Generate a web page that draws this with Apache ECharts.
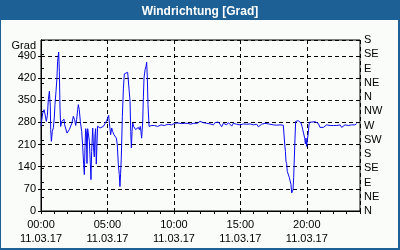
<!DOCTYPE html>
<html>
<head>
<meta charset="utf-8">
<script src="https://cdn.jsdelivr.net/npm/echarts@6/dist/echarts.min.js"></script>
<style>
html,body{margin:0;padding:0;background:#1d6096;}
#c{width:400px;height:250px;}
</style>
</head>
<body>
<div id="c"></div>
<script>
// ---- data (hours since 00:00 on 11.03.17, wind direction in degrees) ----
const times = [
0.00,0.03,0.13,0.23,0.33,0.40,0.48,0.55,0.63,0.70,0.73,0.78,0.85,0.93,1.00,1.05,1.13,1.20,1.25,1.33,
1.38,1.43,1.48,1.56,1.63,1.73,1.78,1.88,1.96,2.03,2.13,2.23,2.33,2.43,2.53,2.61,2.68,2.76,2.81,2.88,
2.96,3.06,3.13,3.21,3.26,3.31,3.36,3.41,3.46,3.51,3.59,3.64,3.72,3.76,3.81,3.89,3.95,4.01,4.06,4.11,
4.16,4.21,4.26,4.31,4.44,4.56,4.69,4.84,4.94,5.02,5.09,5.17,5.24,5.32,5.39,5.49,5.59,5.67,5.74,5.82,
5.89,5.94,5.99,6.04,6.12,6.20,6.27,6.40,6.52,6.65,6.70,6.75,6.80,6.85,6.90,6.97,7.05,7.12,7.22,7.32,
7.40,7.47,7.52,7.57,7.61,7.65,7.70,7.75,7.83,7.90,7.95,8.00,8.05,8.13,8.20,8.30,8.40,8.53,8.65,8.78,
8.90,9.03,9.15,9.28,9.41,9.56,9.68,9.81,9.93,10.06,10.18,10.31,10.43,10.56,10.68,10.81,10.94,11.06,11.24,11.36,
11.49,11.61,11.76,11.96,12.09,12.21,12.34,12.47,12.59,12.72,12.84,12.97,13.09,13.22,13.34,13.47,13.59,13.72,13.84,13.97,
14.10,14.22,14.35,14.47,14.60,14.72,14.85,14.97,15.10,15.22,15.35,15.47,15.60,15.73,15.85,15.98,16.10,16.23,16.35,16.48,
16.60,16.73,16.85,16.98,17.11,17.23,17.48,17.73,17.98,18.23,18.30,18.34,18.39,18.43,18.48,18.53,18.61,18.68,18.74,18.81,
18.86,18.91,18.96,19.01,19.06,19.11,19.16,19.24,19.36,19.49,19.56,19.64,19.69,19.76,19.84,19.89,19.94,19.99,20.04,20.09,
20.14,20.19,20.24,20.37,20.49,20.62,20.74,20.87,20.99,21.07,21.12,21.24,21.37,21.49,21.62,21.75,21.87,22.00,22.12,22.25,
22.37,22.50,22.62,22.75,22.87,23.00,23.12,23.25,23.37,23.50,23.62,23.75
];
const directions = [
268,280,309,320,300,283,302,351,378,331,257,220,251,263,294,336,378,420,473,502,
441,325,267,283,288,290,272,267,246,251,257,260,278,299,288,270,288,320,336,320,
283,251,209,146,115,200,260,250,150,260,257,220,141,99,188,262,200,171,240,260,
148,210,268,271,262,257,267,272,285,294,302,267,241,262,251,241,246,230,209,146,
115,77,119,167,299,388,433,436,438,441,346,251,199,251,278,267,262,257,262,264,
257,267,251,230,232,280,357,420,446,457,470,420,336,267,272,270,267,270,268,267,
270,272,274,270,274,274,278,272,278,277,283,278,277,276,272,277,273,277,274,272,
277,274,277,283,285,279,282,277,281,275,279,272,279,275,281,274,266,277,279,272,
279,275,268,277,279,274,277,272,277,275,272,274,272,275,274,272,269,274,266,272,
274,275,277,274,275,272,272,271,272,271,265,209,188,157,150,125,122,106,104,83,
57,57,67,106,167,230,283,285,285,283,278,267,257,251,230,212,230,204,225,240,
262,280,283,281,280,282,282,276,264,270,262,264,267,272,274,270,274,270,267,270,
274,272,264,270,272,274,270,274,272,274,272,276
];
const xTickHours = [0, 5, 10, 15, 20];
const dateLabel = '11.03.17';
const compassLabels = ['N','NE','E','SE','S','SW','W','NW','N','NE','E','SE','S'];
const titleText = 'Windrichtung [Grad]';
const yUnit = 'Grad';

const seriesData = times.map((t, i) => [t, directions[i]]);
const FONT = 'Liberation Sans';

const chart = echarts.init(document.getElementById('c'), null, {renderer: 'canvas'});
chart.setOption({
  backgroundColor: '#1d6096',
  animation: false,
  title: {
    text: titleText, left: 'center', top: 1,
    textStyle: {color: '#ffffff', fontSize: 12, fontWeight: 'bold', fontFamily: FONT}
  },
  graphic: [
    {type: 'rect', z: -100, shape: {x: 1, y: 20, width: 397, height: 228}, style: {fill: '#fafcfa'}},
    {type: 'text', z: 100, x: 36, y: 46, style: {text: yUnit, textAlign: 'right', textVerticalAlign: 'middle', fill: '#000', font: '11px "Liberation Sans"'}}
  ],
  grid: {left: 41, top: 40, right: 40, bottom: 39, show: true, borderColor: '#000', borderWidth: 1, backgroundColor: 'transparent'},
  xAxis: [
    {
      type: 'value', min: 0, max: 24, interval: 5, position: 'bottom',
      axisLine: {show: true, lineStyle: {color: '#000', width: 1}},
      axisTick: {show: false},
      axisLabel: {
        show: true, showMaxLabel: false, margin: 7, color: '#000', fontSize: 11, fontFamily: FONT, lineHeight: 14,
        formatter: v => (xTickHours.indexOf(v) >= 0 ? String(v).padStart(2, '0') + ':00\n' + dateLabel : '')
      },
      splitLine: {show: true, lineStyle: {color: '#000', width: 1, type: [4, 3]}}
    },
    {
      type: 'value', min: 0, max: 24, interval: 1, position: 'bottom', offset: 0,
      axisLine: {show: false},
      axisTick: {show: true, inside: false, length: 3, lineStyle: {color: '#000', width: 1}},
      axisLabel: {show: false},
      splitLine: {show: false}
    }
  ],
  yAxis: [
    {
      type: 'value', min: 0, max: 540, interval: 70, position: 'left',
      axisLine: {show: true, lineStyle: {color: '#000', width: 1}},
      axisTick: {show: true, inside: false, length: 3, lineStyle: {color: '#000'}},
      axisLabel: {showMaxLabel: false, margin: 5, color: '#000', fontSize: 11, fontFamily: FONT},
      splitLine: {show: true, lineStyle: {color: '#000', width: 1, type: [4, 3]}}
    },
    {
      type: 'value', min: 0, max: 540, interval: 45, position: 'right',
      axisLine: {show: true, lineStyle: {color: '#000', width: 1}},
      axisTick: {show: true, inside: false, length: 3, lineStyle: {color: '#000'}},
      axisLabel: {margin: 4, color: '#000', fontSize: 11, fontFamily: FONT,
        formatter: v => compassLabels[Math.round(v / 45)]},
      splitLine: {show: false}
    }
  ],
  series: [{
    type: 'line', xAxisIndex: 0, yAxisIndex: 0, data: seriesData,
    showSymbol: false, symbol: 'none',
    lineStyle: {color: '#0a0af5', width: 1}
  }]
});
</script>
</body>
</html>
